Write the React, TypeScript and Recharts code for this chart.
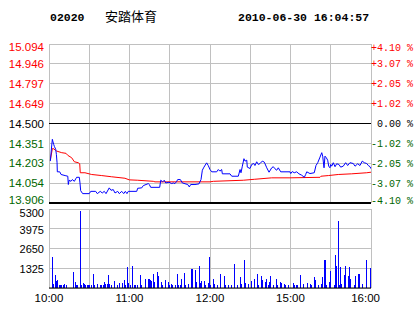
import React from 'react';
import { ComposedChart, Line, Bar, XAxis, YAxis, CartesianGrid, ReferenceLine } from 'recharts';

const stockCode = '02020';
const stockName = '安踏体育';
const stamp = '2010-06-30 16:04:57';

const prevClose = 14.5;
const priceTicks = [13.906, 14.054, 14.203, 14.351, 14.5, 14.649, 14.797, 14.946, 15.094];
const pctTickLabels = ['-4.10 %', '-3.07 %', '-2.05 %', '-1.02 %', ' 0.00 %', '+1.02 %', '+2.05 %', '+3.07 %', '+4.10 %'];
const gridMinutes = [0, 30, 60, 90, 120, 150, 180, 210, 240];
const timeTickMinutes = [0, 60, 120, 180, 240];
const timeTickLabels = ['10:00', '11:00', '12:00', '15:00', '16:00'];
const volTicks = [0, 1325, 2650, 3975, 5300];

// minutes since 10:00 (trading time, lunch removed) and last price
const priceT = [1, 2, 2.5, 3, 3.5, 4, 5, 5.5, 6, 6.2, 8, 9, 12, 14, 14.4, 15, 16.4, 17.4, 18.9, 19.9, 20.6, 22.6, 23.1, 23.6, 25.1, 30, 31.1, 34.8, 36, 38.2, 39.7, 41.2, 42.5, 44.9, 46.2, 47.9, 49.2, 51.2, 52.4, 54.2, 55.7, 56.9, 58.1, 59.1, 65.4, 66.1, 69.1, 70.3, 72.3, 74, 74.8, 75.8, 82.5, 83.3, 84.7, 85.9, 87, 89.4, 91.5, 92.6, 93.9, 95.2, 95.9, 97.9, 99.4, 103.4, 104.6, 105.6, 108.8, 111.8, 113.3, 114.3, 115.5, 117.5, 118.7, 120, 121.3, 125, 126.2, 127.4, 128.7, 129.2, 134.9, 136.2, 141.1, 142.4, 143.1, 144.1, 145.3, 146.1, 147.4, 147.8, 149.8, 151.1, 152.6, 153.5, 154.8, 156, 157.3, 159, 160.5, 162.3, 164, 166, 167.2, 168.4, 169.7, 170.9, 172.7, 179.6, 180.2, 181.3, 182.8, 184.6, 186.3, 188.3, 190.3, 191.3, 192.1, 194.5, 197.7, 199, 200.3, 202, 203.3, 204, 204.4, 205, 205.7, 206.7, 207.7, 208.5, 209.4, 210, 210.7, 211.9, 213.2, 214.4, 216.1, 217.4, 219.3, 221.1, 222.6, 224.3, 226.8, 228.1, 230.1, 231.8, 233.5, 235, 236.8, 238, 239.3, 240];
const priceV = [14.219, 14.332, 14.382, 14.362, 14.344, 14.329, 14.307, 14.269, 14.207, 14.139, 14.139, 14.119, 14.111, 14.106, 14.044, 14.076, 14.068, 14.081, 14.068, 14.086, 14.098, 14.098, 14.056, 13.998, 13.976, 13.976, 13.993, 13.993, 13.976, 13.993, 13.981, 13.993, 13.976, 14.019, 14.001, 14.006, 13.981, 13.993, 13.976, 13.993, 13.976, 13.993, 13.976, 13.993, 13.993, 14.016, 14.019, 14.036, 14.044, 14.051, 14.044, 14.023, 14.023, 14.076, 14.064, 14.076, 14.056, 14.061, 14.051, 14.056, 14.051, 14.068, 14.081, 14.081, 14.056, 14.044, 14.026, 14.044, 14.044, 14.049, 14.081, 14.151, 14.174, 14.206, 14.186, 14.156, 14.139, 14.139, 14.156, 14.144, 14.156, 14.124, 14.124, 14.106, 14.106, 14.156, 14.132, 14.181, 14.237, 14.219, 14.226, 14.174, 14.164, 14.194, 14.201, 14.186, 14.214, 14.194, 14.201, 14.219, 14.211, 14.169, 14.136, 14.169, 14.177, 14.162, 14.151, 14.169, 14.139, 14.139, 14.126, 14.141, 14.132, 14.139, 14.124, 14.114, 14.098, 14.119, 14.139, 14.126, 14.132, 14.186, 14.207, 14.249, 14.282, 14.256, 14.219, 14.169, 14.256, 14.244, 14.226, 14.181, 14.169, 14.194, 14.181, 14.207, 14.177, 14.199, 14.194, 14.174, 14.181, 14.207, 14.186, 14.207, 14.201, 14.181, 14.199, 14.186, 14.219, 14.207, 14.201, 14.186, 14.177, 14.162];

// average price line
const avgT = [1, 2.5, 3, 5.7, 9.5, 12.7, 14, 16.9, 18.9, 21.8, 22.9, 23.3, 26.8, 31.8, 39.3, 46.7, 56.6, 59.8, 66.1, 77.7, 79, 120, 122.5, 144.8, 153, 166, 179.6, 202, 202.7, 208.2, 215.6, 225.6, 236.8, 240];
const avgV = [14.226, 14.312, 14.314, 14.294, 14.282, 14.277, 14.262, 14.244, 14.214, 14.207, 14.199, 14.132, 14.132, 14.119, 14.111, 14.102, 14.091, 14.079, 14.076, 14.068, 14.064, 14.064, 14.068, 14.076, 14.083, 14.094, 14.094, 14.098, 14.106, 14.111, 14.119, 14.124, 14.132, 14.136];

// volume bars
const volT = [
  0.7, 1.5, 2.5, 3.2, 4.7, 5.5, 6.2, 7.7, 8.4, 9.2,
  10.7, 11.4, 12.9, 14.2, 14.9, 16.4, 17.1, 18.1, 19.6, 20.4,
  21.1, 22.4, 23.4, 24.3, 25.6, 26.3, 27.1, 28.6, 29.3, 30.1,
  31.6, 33, 34, 35, 36, 37.3, 38.3, 39.3, 40.5, 41.5,
  42.2, 43.5, 44.2, 45.2, 46.5, 47.7, 48.7, 49.9, 51.2, 52.7,
  53.7, 54.9, 56.1, 56.9, 58.4, 59.4, 60.6, 62.1, 63.6, 64.6,
  65.8, 67.1, 68.1, 69.1, 70.8, 71.8, 73, 74, 74.8, 75.8,
  76.5, 77.8, 78.8, 79.8, 80.7, 81.7, 82.7, 83.7, 84.7, 85.7,
  86.7, 87.9, 88.9, 89.9, 91.2, 91.9, 93.2, 94.2, 95.7, 96.6,
  97.9, 98.9, 99.9, 100.9, 101.9, 102.9, 104.1, 105.1, 106.1, 107.1,
  108.1, 109.1, 110.1, 111.1, 112, 112.8, 113.8, 114.8, 115.8, 116.8,
  117.8, 119, 119.5, 120.5, 121.5, 122.5, 123.5, 124.5, 125.7, 126.7,
  127.7, 128.9, 129.7, 130.7, 131.7, 132.7, 133.7, 134.9, 135.9, 137.1,
  138.1, 139.4, 140.4, 141.6, 142.6, 143.6, 144.6, 145.6, 146.6, 147.6,
  148.8, 149.8, 151.1, 152, 153, 154.3, 155.3, 156.3, 157.3, 158.3,
  159.3, 160.2, 161.2, 162.2, 163.5, 164.5, 165.2, 166.2, 167.5, 168.4,
  169.4, 170.4, 171.4, 172.4, 173.4, 174.4, 175.7, 176.4, 177.4, 178.4,
  179.6, 181.1, 182.1, 183.1, 184.3, 185.3, 186.3, 187.6, 188.6, 189.6,
  190.8, 191.6, 192.5, 193.8, 194.8, 195.8, 196.8, 197.8, 198.8, 199.8,
  200.7, 202, 203, 204, 205.2, 206, 207, 208, 208.9, 209.9,
  210.9, 211.7, 212.7, 213.7, 214.4, 215.7, 216.4, 217.1, 218.1, 219.1,
  220.1, 221.1, 222.1, 223.1, 223.9, 224.8, 225.8, 226.6, 227.6, 228.5,
  229.5, 230.6, 231.6, 232.5, 233.5, 234.8, 235.5, 236.5, 237.8, 238.5,
  239.5,
];
const volV = [
  1453, 716, 2057, 291, 850, 492, 537, 179, 179, 179,
  224, 291, 179, 850, 358, 179, 268, 1096, 425, 224,
  224, 760, 5143, 179, 358, 291, 224, 179, 224, 179,
  224, 962, 224, 291, 291, 224, 224, 224, 224, 402,
  291, 291, 872, 291, 224, 962, 470, 224, 224, 358,
  224, 358, 537, 224, 1431, 313, 179, 1498, 179, 179,
  224, 224, 894, 224, 224, 581, 581, 626, 626, 537,
  447, 962, 402, 716, 1096, 827, 1096, 402, 224, 358,
  537, 2571, 402, 224, 291, 224, 179, 224, 962, 224,
  224, 626, 224, 1029, 224, 224, 291, 402, 1297, 1297,
  470, 1230, 402, 402, 1498, 358, 447, 402, 470, 224,
  224, 358, 2080, 179, 291, 626, 268, 224, 179, 402,
  939, 224, 179, 827, 224, 291, 224, 224, 224, 358,
  1610, 492, 224, 291, 716, 291, 224, 1900, 358, 224,
  291, 291, 492, 425, 581, 313, 962, 224, 358, 827,
  559, 224, 402, 626, 224, 402, 783, 738, 224, 291,
  626, 224, 313, 402, 313, 224, 291, 224, 224, 224,
  224, 402, 358, 224, 224, 224, 291, 850, 224, 268,
  1431, 559, 313, 492, 291, 224, 559, 760, 559, 402,
  224, 962, 268, 760, 1900, 1900, 224, 402, 402, 1118,
  537, 581, 224, 2236, 1498, 4517, 224, 1386, 291, 716,
  850, 1498, 1230, 827, 1431, 626, 1565, 2035, 224, 827,
  537, 939, 939, 1900, 268, 1297, 268, 1900, 716, 827,
  1364,
];

const priceData = priceT.map((t, i) => ({ t, p: priceV[i] }));
const avgData = avgT.map((t, i) => ({ t, a: avgV[i] }));
const volData = volT.map((t, i) => ({ t, v: volV[i] }));

const sans = '"Liberation Sans", Arial, sans-serif';
const mono = '"Liberation Mono", "DejaVu Sans Mono", monospace';
const GREEN = '#006600';
const GRID = '#c0c0c0';

const PriceTick = (props: any) => {
  const { x, y, payload } = props;
  const v = payload.value as number;
  const color = v > prevClose + 1e-9 ? '#ff0000' : v < prevClose - 1e-9 ? GREEN : '#000000';
  const idx = priceTicks.indexOf(v);
  const shift = idx === priceTicks.length - 1 ? 3 : idx === 0 ? -3 : 0;
  return (
    <text x={x} y={y + shift} dy="0.36em" textAnchor="end" fill={color} fontSize={11.5} fontFamily={sans}>
      {v.toFixed(3)}
    </text>
  );
};

const PctTick = (props: any) => {
  const { x, y, payload } = props;
  const v = payload.value as number;
  const idx = priceTicks.indexOf(v);
  const label = pctTickLabels[idx] ?? '';
  const color = v > prevClose + 1e-9 ? '#ff0000' : v < prevClose - 1e-9 ? GREEN : '#000000';
  const shift = idx === priceTicks.length - 1 ? 3 : idx === 0 ? -3 : 0;
  return (
    <text x={x} y={y + shift} dy="0.36em" textAnchor="start" fill={color} fontSize={10} fontFamily={mono} style={{ whiteSpace: 'pre' }}>
      {label}
    </text>
  );
};

const VolTick = (props: any) => {
  const { x, y, payload } = props;
  const v = payload.value as number;
  if (v === 0) return null;
  const shift = v === volTicks[volTicks.length - 1] ? 4 : 1;
  return (
    <text x={x} y={y + shift} dy="0.36em" textAnchor="end" fill="#000" fontSize={11} fontFamily={sans}>
      {String(v)}
    </text>
  );
};

const TimeTick = (props: any) => {
  const { x, y, payload } = props;
  const v = payload.value as number;
  const idx = timeTickMinutes.indexOf(v);
  if (idx < 0) return null;
  const isLast = idx === timeTickMinutes.length - 1;
  return (
    <text x={isLast ? x + 9 : x} y={y + 14} textAnchor={isLast ? 'end' : 'middle'} fill="#000" fontSize={11.5} fontFamily={sans}>
      {timeTickLabels[idx]}
    </text>
  );
};

export default function App() {
  return (
    <div style={{ position: 'absolute', left: 0, top: 0, width: 414, height: 314, background: '#fff', overflow: 'hidden' }}>
      <svg width={414} height={40} style={{ position: 'absolute', left: 0, top: 0 }}>
        <text x={50} y={21} fontSize={11.5} fontWeight="bold" fontFamily={mono} fill="#000">{stockCode}</text>
        <text x={105} y={21} fontSize={13} fontFamily='"Noto Sans CJK SC", sans-serif' fill="#000">{stockName}</text>
        <text x={238} y={21} fontSize={11.5} fontWeight="bold" fontFamily={mono} fill="#000">{stamp}</text>
      </svg>

      <div style={{ position: 'absolute', left: 0, top: 0 }}>
        <ComposedChart width={414} height={210} margin={{ top: 44, right: 0, bottom: 7, left: 0 }}>
          <XAxis xAxisId="x" type="number" dataKey="t" domain={[0, 240]} ticks={gridMinutes} hide allowDataOverflow />
          <YAxis yAxisId="p" type="number" domain={[priceTicks[0], priceTicks[priceTicks.length - 1]]} ticks={priceTicks} width={49} axisLine={false} tickLine={false} tickSize={5} tickMargin={0} tick={PriceTick} interval={0} allowDataOverflow />
          <YAxis yAxisId="pct" orientation="right" type="number" domain={[priceTicks[0], priceTicks[priceTicks.length - 1]]} ticks={priceTicks} width={43} axisLine={false} tickLine={false} tickSize={0} tickMargin={0} tick={PctTick} interval={0} allowDataOverflow />
          <CartesianGrid xAxisId="x" yAxisId="p" stroke={GRID} strokeWidth={1} shapeRendering="crispEdges" />
          <ReferenceLine xAxisId="x" yAxisId="p" y={prevClose} stroke="#000" strokeWidth={1} shapeRendering="crispEdges" />
          <ReferenceLine xAxisId="x" yAxisId="p" y={priceTicks[0]} stroke="#000" strokeWidth={1.5} shapeRendering="crispEdges" />
          <Line xAxisId="x" yAxisId="p" data={avgData} dataKey="a" type="linear" stroke="#ff0000" strokeWidth={1} dot={false} isAnimationActive={false} />
          <Line xAxisId="x" yAxisId="p" data={priceData} dataKey="p" type="linear" stroke="#0000ff" strokeWidth={1} dot={false} isAnimationActive={false} />
        </ComposedChart>
      </div>

      <div style={{ position: 'absolute', left: 0, top: 200 }}>
        <ComposedChart width={414} height={114} data={volData} margin={{ top: 9, right: 43, bottom: 0, left: 0 }}>
          <XAxis dataKey="t" type="number" domain={[0, 240]} ticks={gridMinutes} interval={0} height={26} axisLine={{ stroke: '#000' }} tickLine={false} tickSize={0} tickMargin={0} tick={TimeTick} allowDataOverflow />
          <YAxis type="number" domain={[0, 5300]} ticks={volTicks} width={49} axisLine={false} tickLine={false} tickSize={5} tickMargin={0} tick={VolTick} interval={0} allowDataOverflow />
          <CartesianGrid stroke={GRID} strokeWidth={1} shapeRendering="crispEdges" />
          <Bar dataKey="v" fill="#0000ff" barSize={1} shapeRendering="crispEdges" isAnimationActive={false} />
        </ComposedChart>
      </div>
    </div>
  );
}
